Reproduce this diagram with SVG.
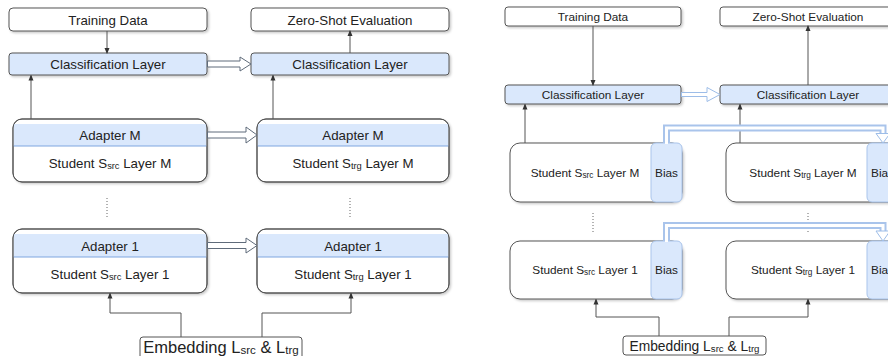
<svg xmlns="http://www.w3.org/2000/svg" width="888" height="356" viewBox="0 0 888 356">
  <defs>
    <filter id="shadow" x="-10%" y="-10%" width="120%" height="130%">
      <feDropShadow dx="1.5" dy="1.5" stdDeviation="1" flood-color="#000" flood-opacity="0.22"/>
    </filter>
    <marker id="tip" viewBox="0 0 6 6" refX="5" refY="3" markerWidth="6" markerHeight="6" markerUnits="userSpaceOnUse" orient="auto">
      <path d="M0,0.5 L6,3 L0,5.5 Z" fill="#333"/>
    </marker>
    <style>
      text { font-family: "Liberation Sans", Arial, sans-serif; fill: #222; text-anchor: middle; }
      .l { font-size: 13.3px; }
      .r { font-size: 11.8px; }
      .sub { font-size: 70%; }
      .box { fill: #fff; stroke: #555; stroke-width: 1; }
      .cls { fill: #dae8fc; stroke: #555; stroke-width: 1; }
      .band { fill: #dae8fc; stroke: none; }
      .bandline { stroke: #7ea6e0; stroke-width: 1; }
      .outline { fill: none; stroke: #555; stroke-width: 1; }
      .bias { fill: #dae8fc; stroke: #a9c4eb; stroke-width: 1; }
      .wire { fill: none; stroke: #555; stroke-width: 1; }
      .dots { fill: none; stroke: #666; stroke-width: 1; stroke-dasharray: 1 2; }
      .hollowL { fill: #fff; stroke: #5f6b7a; stroke-width: 1; }
      .hollowR { fill: #fff; stroke: #9dbde8; stroke-width: 1; }
      .fatOuter { fill: none; stroke: #a9c4eb; stroke-width: 7; stroke-linejoin: miter; }
      .fatInner { fill: none; stroke: #fff; stroke-width: 3; stroke-linejoin: miter; }
    </style>
  </defs>

  <!-- ===== Left panel: adapters ===== -->
  <g id="l-training">
    <rect class="box" x="9" y="8" width="198" height="23" rx="4" filter="url(#shadow)"/>
    <text class="l" x="108" y="24.5">Training Data</text>
  </g>
  <g id="l-zeroshot">
    <rect class="box" x="251" y="8" width="198" height="23" rx="4" filter="url(#shadow)"/>
    <text class="l" x="350" y="24.5">Zero-Shot Evaluation</text>
  </g>
  <g id="l-cls-src">
    <rect class="cls" x="9" y="53" width="198" height="22" rx="3" filter="url(#shadow)"/>
    <text class="l" x="108" y="69">Classification Layer</text>
  </g>
  <g id="l-cls-trg">
    <rect class="cls" x="251" y="53" width="198" height="22" rx="3" filter="url(#shadow)"/>
    <text class="l" x="350" y="69">Classification Layer</text>
  </g>

  <g id="l-src-m">
    <rect class="box" x="13" y="119" width="194" height="63" rx="9" filter="url(#shadow)"/>
    <rect class="band" x="13.5" y="124" width="193" height="22"/>
    <line class="bandline" x1="13.5" y1="146" x2="206.5" y2="146"/>
    <rect class="outline" x="13" y="119" width="194" height="63" rx="9"/>
    <text class="l" x="110" y="140">Adapter M</text>
    <text class="l" x="110" y="168">Student S<tspan class="sub" dy="1">src</tspan><tspan dy="-1"> Layer M</tspan></text>
  </g>
  <g id="l-trg-m">
    <rect class="box" x="257" y="119" width="192" height="63" rx="9" filter="url(#shadow)"/>
    <rect class="band" x="257.5" y="124" width="191" height="22"/>
    <line class="bandline" x1="257.5" y1="146" x2="448.5" y2="146"/>
    <rect class="outline" x="257" y="119" width="192" height="63" rx="9"/>
    <text class="l" x="353" y="140">Adapter M</text>
    <text class="l" x="353" y="168">Student S<tspan class="sub" dy="1">trg</tspan><tspan dy="-1"> Layer M</tspan></text>
  </g>
  <g id="l-src-1">
    <rect class="box" x="13" y="229" width="194" height="64" rx="9" filter="url(#shadow)"/>
    <rect class="band" x="13.5" y="234" width="193" height="23"/>
    <line class="bandline" x1="13.5" y1="257" x2="206.5" y2="257"/>
    <rect class="outline" x="13" y="229" width="194" height="64" rx="9"/>
    <text class="l" x="110" y="250.5">Adapter 1</text>
    <text class="l" x="110" y="279">Student S<tspan class="sub" dy="1">src</tspan><tspan dy="-1"> Layer 1</tspan></text>
  </g>
  <g id="l-trg-1">
    <rect class="box" x="257" y="229" width="192" height="64" rx="9" filter="url(#shadow)"/>
    <rect class="band" x="257.5" y="234" width="191" height="23"/>
    <line class="bandline" x1="257.5" y1="257" x2="448.5" y2="257"/>
    <rect class="outline" x="257" y="229" width="192" height="64" rx="9"/>
    <text class="l" x="353" y="250.5">Adapter 1</text>
    <text class="l" x="353" y="279">Student S<tspan class="sub" dy="1">trg</tspan><tspan dy="-1"> Layer 1</tspan></text>
  </g>
  <g id="l-embedding">
    <rect class="box" x="140" y="337" width="162" height="24" rx="3"/>
    <text x="221" y="352.5" font-size="16.5">Embedding L<tspan class="sub" dy="1">src</tspan><tspan dy="-1"> &amp; L</tspan><tspan class="sub" dy="1">trg</tspan></text>
  </g>

  <!-- ===== Right panel: bias ===== -->
  <g id="r-training">
    <rect class="box" x="505" y="7" width="176" height="19" rx="3" filter="url(#shadow)"/>
    <text class="r" x="593" y="20.5">Training Data</text>
  </g>
  <g id="r-zeroshot">
    <rect class="box" x="720" y="7" width="176" height="19" rx="3" filter="url(#shadow)"/>
    <text class="r" x="808" y="20.5">Zero-Shot Evaluation</text>
  </g>
  <g id="r-cls-src">
    <rect class="cls" x="505" y="85" width="176" height="19" rx="3" filter="url(#shadow)"/>
    <text class="r" x="593" y="98.5">Classification Layer</text>
  </g>
  <g id="r-cls-trg">
    <rect class="cls" x="720" y="85" width="176" height="19" rx="3" filter="url(#shadow)"/>
    <text class="r" x="808" y="98.5">Classification Layer</text>
  </g>

  <g id="r-src-m">
    <rect class="box" x="510" y="143" width="172" height="59" rx="10" filter="url(#shadow)"/>
    <rect class="bias" x="651" y="143" width="31" height="59" rx="5"/>
    <text class="r" x="585" y="177">Student S<tspan class="sub" dy="1">src</tspan><tspan dy="-1"> Layer M</tspan></text>
    <text class="r" x="666.5" y="177">Bias</text>
  </g>
  <g id="r-trg-m">
    <rect class="box" x="726" y="143" width="172" height="59" rx="10" filter="url(#shadow)"/>
    <rect class="bias" x="867" y="143" width="31" height="59" rx="5"/>
    <text class="r" x="803" y="177">Student S<tspan class="sub" dy="1">trg</tspan><tspan dy="-1"> Layer M</tspan></text>
    <text class="r" x="882.5" y="177">Bias</text>
  </g>
  <g id="r-src-1">
    <rect class="box" x="510" y="241" width="172" height="58" rx="10" filter="url(#shadow)"/>
    <rect class="bias" x="651" y="241" width="31" height="58" rx="5"/>
    <text class="r" x="585" y="274">Student S<tspan class="sub" dy="1">src</tspan><tspan dy="-1"> Layer 1</tspan></text>
    <text class="r" x="666.5" y="274">Bias</text>
  </g>
  <g id="r-trg-1">
    <rect class="box" x="726" y="241" width="172" height="58" rx="10" filter="url(#shadow)"/>
    <rect class="bias" x="867" y="241" width="31" height="58" rx="5"/>
    <text class="r" x="803" y="274">Student S<tspan class="sub" dy="1">trg</tspan><tspan dy="-1"> Layer 1</tspan></text>
    <text class="r" x="882.5" y="274">Bias</text>
  </g>
  <g id="r-embedding">
    <rect class="box" x="623" y="336" width="143" height="19" rx="3"/>
    <text x="694.5" y="350.5" font-size="13.8">Embedding L<tspan class="sub" dy="1">src</tspan><tspan dy="-1"> &amp; L</tspan><tspan class="sub" dy="1">trg</tspan></text>
  </g>

  <!-- ===== Connectors ===== -->
  <g id="connectors">
    <!-- left panel -->
    <path class="wire" d="M107,31 V53" marker-end="url(#tip)"/>
    <path class="wire" d="M31,119 V75.5" marker-end="url(#tip)"/>
    <path class="wire" d="M350,53 V31" marker-end="url(#tip)"/>
    <path class="wire" d="M273,119 V75.5" marker-end="url(#tip)"/>
    <path class="wire" d="M181,337 V313 H110 V293.5" marker-end="url(#tip)"/>
    <path class="wire" d="M262,337 V313 H351 V293.5" marker-end="url(#tip)"/>
    <path class="dots" d="M107,198 V219"/>
    <path class="dots" d="M350,198 V219"/>
    <polygon class="hollowL" points="207.5,61 240,61 240,57 251,64 240,71 240,67 207.5,67"/>
    <polygon class="hollowL" points="207.5,132 246,132 246,127 257,135 246,143 246,138 207.5,138"/>
    <polygon class="hollowL" points="207.5,242.5 246,242.5 246,238 257,245.5 246,253 246,248.5 207.5,248.5"/>

    <!-- right panel -->
    <path class="wire" d="M593,26 V85" marker-end="url(#tip)"/>
    <path class="wire" d="M525,143 V104.5" marker-end="url(#tip)"/>
    <path class="wire" d="M808,85 V26" marker-end="url(#tip)"/>
    <path class="wire" d="M740,143 V104.5" marker-end="url(#tip)"/>
    <path class="wire" d="M659,336 V317 H596 V299.5" marker-end="url(#tip)"/>
    <path class="wire" d="M729,336 V317 H808 V299.5" marker-end="url(#tip)"/>
    <path class="dots" d="M593,213 V233"/>
    <path class="dots" d="M808,213 V233"/>
    <polygon class="hollowR" points="681.5,92.5 707,92.5 707,87.5 720,94.5 707,101.5 707,96.5 681.5,96.5"/>

    <path class="fatOuter" d="M666.5,143 V128 H883 V134"/>
    <path class="fatInner" d="M666.5,144 V128 H883 V135"/>
    <polygon class="hollowR" points="876,133.5 890,133.5 883,143"/>

    <path class="fatOuter" d="M666.5,241 V225.5 H883 V231.5"/>
    <path class="fatInner" d="M666.5,242 V225.5 H883 V232.5"/>
    <polygon class="hollowR" points="876,231 890,231 883,241"/>
  </g>
</svg>
